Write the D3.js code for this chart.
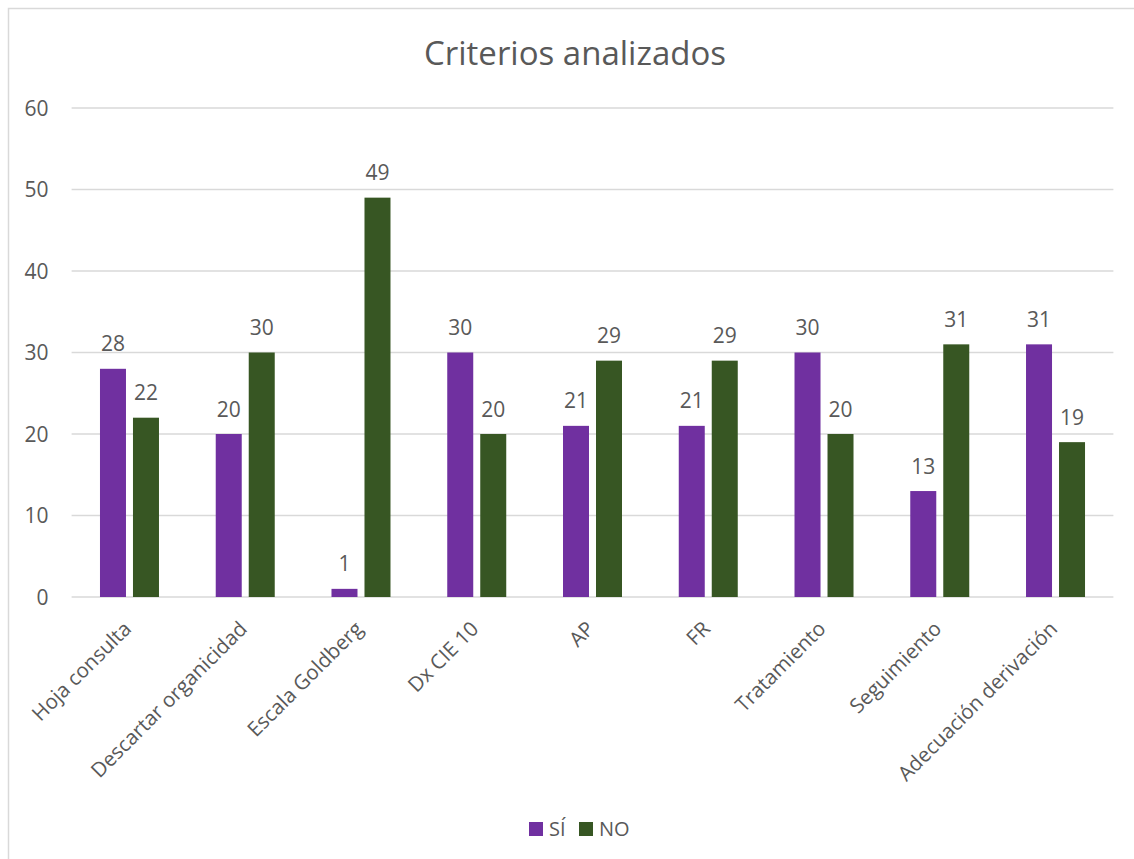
<!DOCTYPE html>
<html><head><meta charset="utf-8">
<script src="https://cdn.jsdelivr.net/npm/d3@7"></script>
<style>body{margin:0;background:#fff}svg{display:block}</style>
</head><body>
<svg id="c" width="1134" height="859"></svg>
<script>
const categories = ["Hoja consulta","Descartar organicidad","Escala Goldberg","Dx CIE 10","AP","FR","Tratamiento","Seguimiento","Adecuación derivación"];
const si = [28,20,1,30,21,21,30,13,31];
const no = [22,30,49,20,29,29,20,31,19];
const yTicks = [0,10,20,30,40,50,60];
const seriesNames = ["SÍ","NO"];
const colors = ["#7030A0","#375623"];

const svg = d3.select("#c");
const font = "'Open Sans', sans-serif";
const txt = "#595959";
const fs = 21;

svg.append("rect").attr("x",8.5).attr("y",8.5).attr("width",1140).attr("height",860)
  .attr("fill","none").attr("stroke","#d9d9d9").attr("stroke-width",1.5);

const L=71.6, R=1113.4, T=108, B=597;
const x = d3.scaleBand().domain(categories).range([L,R]);
const y = d3.scaleLinear().domain([0,60]).range([B,T]);

svg.append("text").attr("x",575).attr("y",65).attr("text-anchor","middle")
  .attr("font-family",font).attr("font-size",33).attr("fill",txt).text("Criterios analizados");

svg.append("g").selectAll("line").data(yTicks).join("line")
  .attr("x1",L).attr("x2",R).attr("y1",d=>y(d)).attr("y2",d=>y(d))
  .attr("stroke","#d9d9d9").attr("stroke-width",1.5);

const ya = svg.append("g").attr("transform",`translate(${L},0)`)
  .call(d3.axisLeft(y).tickValues(yTicks).tickSize(0).tickPadding(23));
ya.select(".domain").remove();
ya.selectAll("text").attr("font-family",font).attr("font-size",fs).attr("fill",txt).attr("dy","0.35em");

const xa = svg.append("g").attr("transform",`translate(0,${B})`)
  .call(d3.axisBottom(x).tickSize(0).tickPadding(0));
xa.select(".domain").remove();
xa.selectAll("text").attr("font-family",font).attr("font-size",20.5).attr("fill",txt)
  .attr("text-anchor","end").attr("transform","translate(-2,28) rotate(-45)").attr("dy","0.35em");

const bw = 26, gap = 7;
const series = [si,no];
series.forEach((vals,k)=>{
  const off = k===0 ? -(gap/2+bw) : gap/2;
  const g = svg.append("g");
  g.selectAll("rect").data(vals).join("rect")
    .attr("x",(d,i)=>x(categories[i])+x.bandwidth()/2+off)
    .attr("y",d=>y(d)).attr("width",bw).attr("height",d=>y(0)-y(d))
    .attr("fill",colors[k]);
  g.selectAll("text").data(vals).join("text")
    .attr("x",(d,i)=>x(categories[i])+x.bandwidth()/2+off+bw/2)
    .attr("y",d=>y(d)-17.5).attr("text-anchor","middle")
    .attr("font-family",font).attr("font-size",fs).attr("fill",txt).text(d=>d);
});

const lg = svg.append("g");
const lx = [529,579];
seriesNames.forEach((n,i)=>{
  lg.append("rect").attr("x",lx[i]).attr("y",822).attr("width",14).attr("height",14).attr("fill",colors[i]);
  lg.append("text").attr("x",lx[i]+20).attr("y",836).attr("font-family",font).attr("font-size",20).attr("fill",txt).text(n);
});
</script>
</body></html>
